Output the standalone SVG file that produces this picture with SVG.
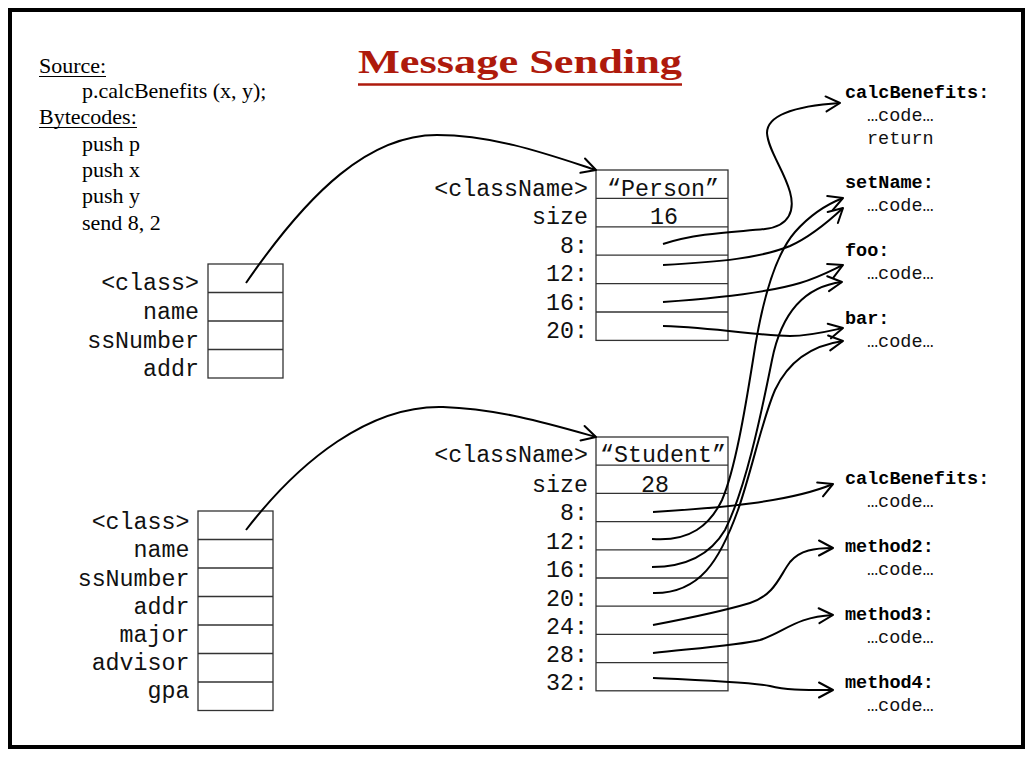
<svg xmlns="http://www.w3.org/2000/svg" width="1031" height="757" viewBox="0 0 1031 757">
  <defs>
    <style>
      .serif { font-family: "Liberation Serif", "Times New Roman", serif; font-size: 22px; fill: #000; }
      .mono { font-family: "Liberation Mono", "Courier New", monospace; font-size: 23.3px; fill: #111; }
      .end { text-anchor: end; }
      .mid { text-anchor: middle; }
      .meth { font-family: "Liberation Mono", "Courier New", monospace; font-size: 18.5px; font-weight: bold; fill: #000; }
      .code { font-family: "Liberation Mono", "Courier New", monospace; font-size: 18.5px; fill: #111; }
      .box { fill: #fff; stroke: #333; stroke-width: 1.3; }
      .row { stroke: #333; stroke-width: 1.3; }
      .wire { fill: none; stroke: #000; stroke-width: 2; marker-end: url(#open); }
      .rule { stroke: #000; stroke-width: 1.2; }
    </style>
    <marker id="open" viewBox="-16 -10 18 20" refX="0" refY="0" markerWidth="18" markerHeight="20" markerUnits="userSpaceOnUse" orient="auto">
      <path d="M-14,-7.5 L0,0 L-14,7.5" fill="none" stroke="#000" stroke-width="2" stroke-linecap="round" stroke-linejoin="round"/>
    </marker>
  </defs>

  <rect x="0" y="0" width="1031" height="757" fill="#fff"/>
  <!-- slide frame -->
  <rect x="10" y="10" width="1013" height="737" fill="none" stroke="#000" stroke-width="4"/>

  <!-- title -->
  <g id="title">
    <text x="358" y="73" font-family="Liberation Serif, Times New Roman, serif" font-size="33" font-weight="bold" fill="#AE1A0C" textLength="324" lengthAdjust="spacingAndGlyphs">Message Sending</text>
    <line x1="358" y1="84.5" x2="682" y2="84.5" stroke="#AE1A0C" stroke-width="2.6"/>
  </g>

  <!-- source and bytecode listing -->
  <g id="source-listing">
    <text class="serif" x="39" y="73">Source:</text>
    <line class="rule" x1="39" y1="76.5" x2="106" y2="76.5"/>
    <text class="serif" x="82" y="98">p.calcBenefits (x, y);</text>
    <text class="serif" x="39" y="124">Bytecodes:</text>
    <line class="rule" x1="39" y1="127.5" x2="137" y2="127.5"/>
    <text class="serif" x="82" y="151">push p</text>
    <text class="serif" x="82" y="177">push x</text>
    <text class="serif" x="82" y="203">push y</text>
    <text class="serif" x="82" y="229.5">send 8, 2</text>
  </g>

  <!-- Person instance -->
  <g id="person-object">
    <rect class="box" x="208" y="264" width="75" height="114"/>
    <line class="row" x1="208" y1="292.5" x2="283" y2="292.5"/>
    <line class="row" x1="208" y1="321" x2="283" y2="321"/>
    <line class="row" x1="208" y1="349.5" x2="283" y2="349.5"/>
    <text class="mono end" x="199" y="290">&lt;class&gt;</text>
    <text class="mono end" x="199" y="319">name</text>
    <text class="mono end" x="199" y="347.5">ssNumber</text>
    <text class="mono end" x="199" y="376">addr</text>
  </g>

  <!-- Student instance -->
  <g id="student-object">
    <rect class="box" x="198" y="511" width="75" height="199.5"/>
    <line class="row" x1="198" y1="539.5" x2="273" y2="539.5"/>
    <line class="row" x1="198" y1="568" x2="273" y2="568"/>
    <line class="row" x1="198" y1="596.5" x2="273" y2="596.5"/>
    <line class="row" x1="198" y1="625" x2="273" y2="625"/>
    <line class="row" x1="198" y1="653.5" x2="273" y2="653.5"/>
    <line class="row" x1="198" y1="682" x2="273" y2="682"/>
    <text class="mono end" x="189.5" y="529">&lt;class&gt;</text>
    <text class="mono end" x="189.5" y="557">name</text>
    <text class="mono end" x="189.5" y="586">ssNumber</text>
    <text class="mono end" x="189.5" y="614">addr</text>
    <text class="mono end" x="189.5" y="642">major</text>
    <text class="mono end" x="189.5" y="670">advisor</text>
    <text class="mono end" x="189.5" y="698">gpa</text>
  </g>

  <!-- Person class record -->
  <g id="person-class">
    <rect class="box" x="596" y="170" width="132" height="170.4"/>
    <line class="row" x1="596" y1="198.4" x2="728" y2="198.4"/>
    <line class="row" x1="596" y1="226.8" x2="728" y2="226.8"/>
    <line class="row" x1="596" y1="255.2" x2="728" y2="255.2"/>
    <line class="row" x1="596" y1="283.6" x2="728" y2="283.6"/>
    <line class="row" x1="596" y1="312" x2="728" y2="312"/>
    <text class="mono mid" x="663" y="196">“Person”</text>
    <text class="mono mid" x="664" y="224">16</text>
    <text class="mono end" x="588" y="196">&lt;className&gt;</text>
    <text class="mono end" x="588" y="224">size</text>
    <text class="mono end" x="588" y="253">8:</text>
    <text class="mono end" x="588" y="281">12:</text>
    <text class="mono end" x="588" y="310">16:</text>
    <text class="mono end" x="588" y="338">20:</text>
  </g>

  <!-- Student class record -->
  <g id="student-class">
    <rect class="box" x="596" y="437" width="132" height="253.8"/>
    <line class="row" x1="596" y1="465.2" x2="728" y2="465.2"/>
    <line class="row" x1="596" y1="493.4" x2="728" y2="493.4"/>
    <line class="row" x1="596" y1="521.6" x2="728" y2="521.6"/>
    <line class="row" x1="596" y1="549.8" x2="728" y2="549.8"/>
    <line class="row" x1="596" y1="578" x2="728" y2="578"/>
    <line class="row" x1="596" y1="606.2" x2="728" y2="606.2"/>
    <line class="row" x1="596" y1="634.4" x2="728" y2="634.4"/>
    <line class="row" x1="596" y1="662.6" x2="728" y2="662.6"/>
    <text class="mono mid" x="663" y="462">“Student”</text>
    <text class="mono mid" x="655" y="492">28</text>
    <text class="mono end" x="588" y="462">&lt;className&gt;</text>
    <text class="mono end" x="588" y="492">size</text>
    <text class="mono end" x="588" y="520">8:</text>
    <text class="mono end" x="588" y="549">12:</text>
    <text class="mono end" x="588" y="577">16:</text>
    <text class="mono end" x="588" y="606">20:</text>
    <text class="mono end" x="588" y="634">24:</text>
    <text class="mono end" x="588" y="662">28:</text>
    <text class="mono end" x="588" y="690">32:</text>
  </g>

  <!-- Person methods -->
  <g id="method-person-calcBenefits">
    <text class="meth" x="845" y="98">calcBenefits:</text>
    <text class="code" x="867" y="121">…code…</text>
    <text class="code" x="867" y="143.5">return</text>
  </g>
  <g id="method-setName">
    <text class="meth" x="845" y="188">setName:</text>
    <text class="code" x="867" y="211">…code…</text>
  </g>
  <g id="method-foo">
    <text class="meth" x="845" y="256">foo:</text>
    <text class="code" x="867" y="279">…code…</text>
  </g>
  <g id="method-bar">
    <text class="meth" x="845" y="324">bar:</text>
    <text class="code" x="867" y="347">…code…</text>
  </g>

  <!-- Student methods -->
  <g id="method-student-calcBenefits">
    <text class="meth" x="845" y="483.5">calcBenefits:</text>
    <text class="code" x="867" y="506.5">…code…</text>
  </g>
  <g id="method-method2">
    <text class="meth" x="845" y="551.5">method2:</text>
    <text class="code" x="867" y="575">…code…</text>
  </g>
  <g id="method-method3">
    <text class="meth" x="845" y="619.5">method3:</text>
    <text class="code" x="867" y="642.5">…code…</text>
  </g>
  <g id="method-method4">
    <text class="meth" x="845" y="687.5">method4:</text>
    <text class="code" x="867" y="710.5">…code…</text>
  </g>

  <!-- pointers -->
  <g id="connectors">
    <!-- instance class pointers -->
    <path class="wire" d="M246,283 C310,190 370,135 437,135 C495,135 550,155 596,170"/>
    <path class="wire" d="M246,530 C300,460 370,405 443,407 C500,409 550,424 596,437"/>

    <!-- Person dispatch table -->
    <path class="wire" d="M663,244 C700,232 740,232 765,229 C790,226 795,210 790,192 C784,170 768,150 767,133 C767,115 795,106 840,103"/>
    <path class="wire" d="M663,265 C720,262 760,258 790,246 C810,237 828,222 843,208"/>
    <path class="wire" d="M663,302 C720,298 770,292 800,283 C820,277 832,270 843,265"/>
    <path class="wire" d="M663,326 C720,328 760,336 790,336 C810,336 825,332 843,328"/>

    <!-- Student dispatch table -->
    <path class="wire" d="M653,512 C720,508 790,502 833,484"/>
    <path class="wire" d="M652,539 C690,542 710,525 722,500 C735,470 745,410 753,360 C762,300 775,255 795,232 C810,215 825,205 843,198"/>
    <path class="wire" d="M652,567 C690,567 712,552 725,530 C745,490 760,420 772,360 C780,320 800,287 842,282"/>
    <path class="wire" d="M653,593 C700,594 720,560 738,510 C752,470 762,420 775,390 C790,358 815,345 843,341"/>
    <path class="wire" d="M653,625 C690,618 720,612 750,603 C775,595 780,575 790,562 C800,550 815,548 833,548"/>
    <path class="wire" d="M653,653 C700,648 740,645 760,640 C785,632 795,617 833,615"/>
    <path class="wire" d="M653,678 C700,680 750,682 770,686 C785,690 800,690 833,690"/>
  </g>
</svg>
